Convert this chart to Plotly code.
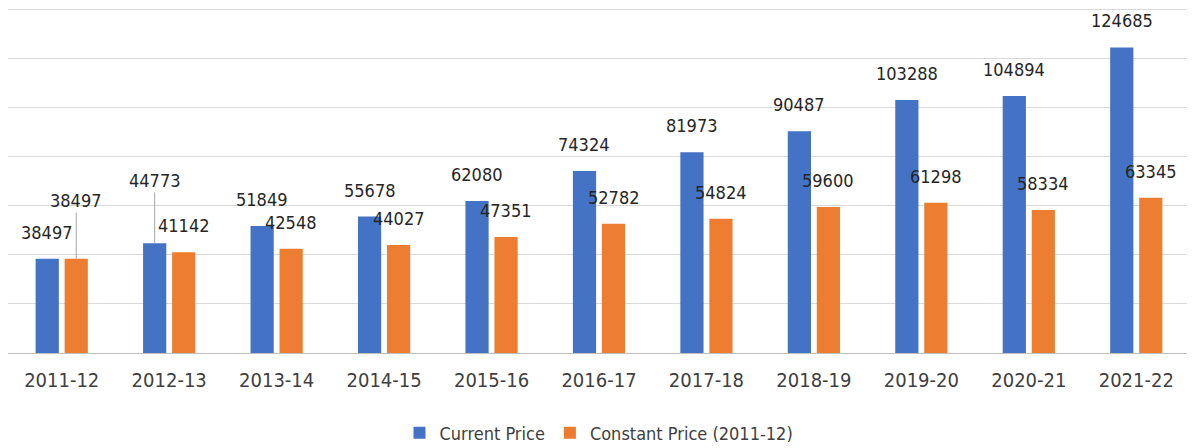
import plotly.graph_objects as go

categories = ["2011-12", "2012-13", "2013-14", "2014-15", "2015-16", "2016-17",
              "2017-18", "2018-19", "2019-20", "2020-21", "2021-22"]
current_price = [38497, 44773, 51849, 55678, 62080, 74324, 81973, 90487, 103288, 104894, 124685]
constant_price = [38497, 41142, 42548, 44027, 47351, 52782, 54824, 59600, 61298, 58334, 63345]

series_names = ["Current Price", "Constant Price (2011-12)"]
colors = ["#4472C4", "#ED7D31"]

# label styling: pixel offsets for labels that use a leader line (series index, category index) -> ay
leader_labels = {(1, 0): -58, (0, 1): -63}

FONT = "DejaVu Sans Condensed, Open Sans, sans-serif"

fig = go.Figure()
for name, vals, col in zip(series_names, [current_price, constant_price], colors):
    fig.add_trace(go.Bar(x=categories, y=vals, name=name, marker_color=col,
                         marker_line_width=0))

bargap = 0.46
slot = (1 - bargap) / 2
annotations = []
for s, vals in enumerate([current_price, constant_price]):
    offset = (s - 0.5) * slot
    for i, v in enumerate(vals):
        base = dict(x=i + offset, y=v, xref="x", yref="y", text=str(v),
                    font=dict(family=FONT, size=18, color="#262626"))
        if (s, i) in leader_labels:
            base.update(showarrow=True, arrowhead=0, arrowwidth=1, arrowcolor="#a6a6a6",
                        ax=0, ay=leader_labels[(s, i)], standoff=0)
        else:
            base.update(showarrow=False, yanchor="bottom", yshift=14)
        annotations.append(base)

fig.update_layout(
    width=1187, height=440,
    margin=dict(l=0, r=5, t=0, b=95, autoexpand=False),
    barmode="group", bargap=bargap, bargroupgap=0.2,
    plot_bgcolor="white", paper_bgcolor="white",
    font=dict(family=FONT, size=18, color="#404040"),
    annotations=annotations,
    legend=dict(orientation="h", x=0.5, xanchor="center", yref="container",
                y=0.034, yanchor="middle",
                font=dict(family=FONT, size=18, color="#404040"), itemwidth=30),
    xaxis=dict(type="category", showline=True, linecolor="#bfbfbf", linewidth=1, ticks="",
               tickfont=dict(family=FONT, size=20, color="#404040"),
               ticklabelstandoff=9, showgrid=False),
    yaxis=dict(range=[0, 140800], dtick=20000, showticklabels=False,
               gridcolor="#d9d9d9", gridwidth=1, zeroline=False, showline=False),
)

fig.write_html("out.html")
